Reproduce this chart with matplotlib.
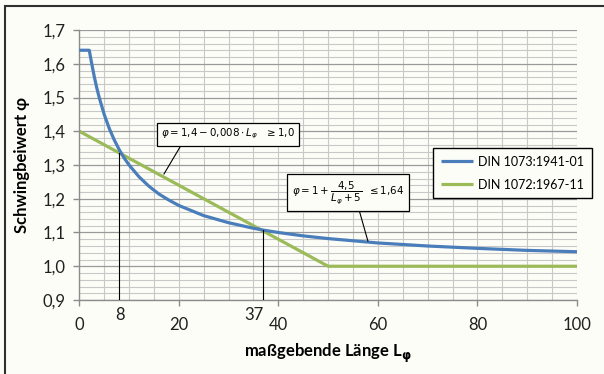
import matplotlib
matplotlib.use("Agg")
import matplotlib.pyplot as plt
from matplotlib.patches import Rectangle
from matplotlib.ticker import MultipleLocator, FuncFormatter

plt.rcParams['font.family'] = ['Lato', 'DejaVu Sans']
plt.rcParams['mathtext.fontset'] = 'dejavusans'

# DIN 1073:1941-01 (blue)
blue_x = [0, 2, 2.5, 3, 3.5, 4, 5, 6, 7, 8, 9, 10, 12, 14, 16, 18, 20, 25, 30, 35, 37,
          40, 45, 50, 60, 70, 80, 90, 100]
blue_y = [1.64, 1.64, 1.60, 1.5625, 1.529, 1.50, 1.45, 1.409, 1.375, 1.346, 1.321, 1.30,
          1.265, 1.237, 1.214, 1.196, 1.18, 1.15, 1.129, 1.1125, 1.107,
          1.10, 1.09, 1.082, 1.069, 1.06, 1.053, 1.047, 1.043]
# DIN 1072:1967-11 (green)
green_x = [0, 50, 100]
green_y = [1.40, 1.00, 1.00]

series_labels = ["DIN 1073:1941-01", "DIN 1072:1967-11"]
marker_x = [8, 37]
marker_y = [1.336, 1.108]
x_ticks = [0, 20, 40, 60, 80, 100]
y_ticks = [0.9, 1.0, 1.1, 1.2, 1.3, 1.4, 1.5, 1.6, 1.7]

W, H = 604, 374
fig = plt.figure(figsize=(W / 100, H / 100), dpi=100)
bg = '#fdfdf8'
fig.patch.set_facecolor(bg)

ax = fig.add_axes([79.3 / W, 1 - 300 / H, (577 - 79.3) / W, (300 - 30) / H])
ax.set_facecolor(bg)
ax.set_xlim(0, 100)
ax.set_ylim(0.9, 1.7)

ax.xaxis.set_major_locator(MultipleLocator(20))
ax.xaxis.set_minor_locator(MultipleLocator(5))
ax.yaxis.set_major_locator(MultipleLocator(0.1))
ax.yaxis.set_minor_locator(MultipleLocator(0.02))
ax.grid(True, which='minor', color='#c8c8c8', lw=0.8, zorder=0)
ax.grid(True, which='major', axis='y', color='#9a9a9a', lw=0.9, zorder=0)
ax.grid(True, which='major', axis='x', color='#c8c8c8', lw=0.8, zorder=0)
ax.set_axisbelow(True)
for s in ['top', 'right']:
    ax.spines[s].set_visible(False)
for s in ['left', 'bottom']:
    ax.spines[s].set_color('#8c8c8c')
    ax.spines[s].set_linewidth(1.0)

ax.set_xticks(x_ticks)
ax.set_yticks(y_ticks)
ax.yaxis.set_major_formatter(FuncFormatter(lambda v, p: f"{v:.1f}".replace('.', ',')))
ax.tick_params(which='major', length=4, width=1, color='#8c8c8c', labelsize=12,
               labelcolor='#202020')
ax.tick_params(axis='y', pad=6)
ax.tick_params(axis='x', pad=8)
ax.tick_params(which='minor', length=0)

ax.plot(blue_x, blue_y, color='#4a7ebb', lw=2.3, label=series_labels[0], zorder=3,
        solid_capstyle='butt')
ax.plot(green_x, green_y, color='#9bbb59', lw=2.3, label=series_labels[1], zorder=2,
        solid_capstyle='butt')

label_ha = ['center', 'right']
label_dx = [1, 0]
for mx, my, ha, dx in zip(marker_x, marker_y, label_ha, label_dx):
    ax.plot([mx, mx], [0.9, my], color='black', lw=0.8, zorder=4)
    ax.annotate(str(mx), xy=(mx, 0.9), xytext=(dx, -5), textcoords='offset points',
                ha=ha, va='top', fontsize=12, color='#202020')

ax.set_ylabel("Schwingbeiwert φ", fontsize=12, fontweight='bold')
ax.set_xlabel(r"maßgebende Länge L$_\mathbf{\varphi}$", fontsize=12, fontweight='bold')
ax.yaxis.set_label_coords(-(79.3 - 30) / (577 - 79.3), 0.5)
ax.xaxis.set_label_coords(0.5, -(342 - 300) / 270)

ax.annotate(r"$\varphi = 1{,}4 - 0{,}008\cdot L_\varphi\;\;\;\geq 1{,}0$",
            xy=(17.0, 1.273), xytext=(16.4, 1.391), fontsize=7.4, ha='left', va='center',
            bbox=dict(boxstyle='square,pad=0.4', fc=bg, ec='black', lw=0.9), zorder=6,
            arrowprops=dict(arrowstyle='-', color='black', lw=0.8, relpos=(0.167, 0),
                            shrinkA=0, shrinkB=0))
ax.annotate(r"$\varphi = 1 + \dfrac{4{,}5}{L_\varphi + 5}\;\;\leq 1{,}64$",
            xy=(58.0, 1.074), xytext=(42.7, 1.219), fontsize=7.4, ha='left', va='center',
            bbox=dict(boxstyle='square,pad=0.5', fc=bg, ec='black', lw=0.9), zorder=6,
            arrowprops=dict(arrowstyle='-', color='black', lw=0.8, relpos=(0.59, 0),
                            shrinkA=0, shrinkB=0))

leg = fig.legend(loc='upper left', bbox_to_anchor=(433 / W, 1 - 148 / H), fontsize=9,
                 frameon=True, fancybox=False, framealpha=1, edgecolor='black',
                 handlelength=2.6, borderpad=0.6, labelspacing=0.9, handletextpad=0.4,
                 borderaxespad=0)
leg.get_frame().set_facecolor(bg)
leg.get_frame().set_linewidth(1.0)

fig.add_artist(Rectangle((5 / W, -0.1), 1.2, 1 - 6 / H + 0.1, transform=fig.transFigure,
                         fill=False, ec='#303030', lw=1.5))

fig.savefig('out.png', dpi=100, facecolor=bg)
